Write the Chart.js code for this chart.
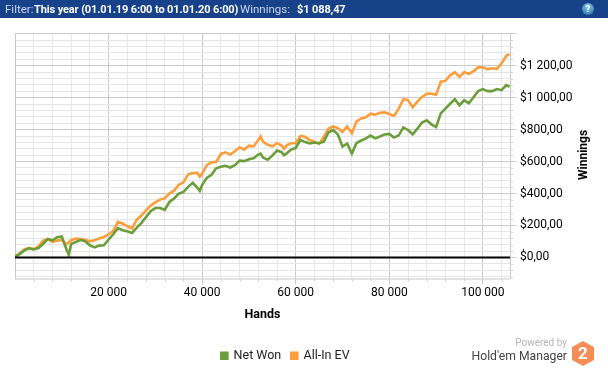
<!DOCTYPE html>
<html>
<head>
<meta charset="utf-8">
<title>Winnings</title>
<script src="https://cdn.jsdelivr.net/npm/chart.js@4"></script>
<style>
  html, body { margin: 0; padding: 0; background: #fff; overflow: hidden; }
  body { width: 608px; height: 369px; position: relative; font-family: Roboto, sans-serif; }
  canvas { position: absolute; left: 0; top: 0; }
  #bar { position: absolute; left: 0; top: 0; width: 608px; height: 18px; background: #17428a; color: #c9d5e8;
         font-size: 11.5px; line-height: 18px; white-space: nowrap; }
  #bar span { position: absolute; top: 0; }
  #bar b { color: #fff; font-size: 11px; letter-spacing: -0.12px; }
  #help { position: absolute; left: 582px; top: 3px; width: 12px; height: 12px; border-radius: 50%;
          background: radial-gradient(circle at 50% 30%, #8fc6e6, #1f6fa8); color: #fff; font-size: 9px;
          font-weight: bold; line-height: 12px; text-align: center; }
  #yTitle { position: absolute; left: 583px; top: 155px; font-size: 12px; font-weight: bold; color: #000;
            transform: translate(-50%, -50%) rotate(-90deg); }
  #powered { position: absolute; right: 41px; top: 337px; font-size: 10px; color: #b5b5b5; }
  #brand { position: absolute; right: 41px; top: 349px; font-size: 12.2px; color: #444; }
  #logo { position: absolute; left: 572px; top: 341px; }
</style>
</head>
<body>
<canvas id="chart" width="608" height="369"></canvas>
<div id="bar">
  <span style="left:5px">Filter:</span>
  <span style="left:34px"><b>This year (01.01.19 6:00 to 01.01.20 6:00)</b></span>
  <span style="left:240px">Winnings:</span>
  <span style="left:297px"><b>$1 088,47</b></span>
  <div id="help">?</div>
</div>
<div id="yTitle">Winnings</div>
<div id="powered">Powered by</div>
<div id="brand">Hold'em Manager</div>
<svg id="logo" width="22" height="25" viewBox="0 0 22 25">
  <polygon points="11,0 22,6 22,19 11,25 0,19 0,6" fill="#f58d56"/>
  <text x="11" y="18" text-anchor="middle" font-family="Roboto" font-weight="bold" font-size="17" fill="#fff">2</text>
</svg>
<script>
const hands = [
  0, 1000, 2000, 3000, 4000, 5000, 6000, 7000, 8000, 9000,
  10000, 11000, 11500, 12000, 13000, 14000, 15000, 16000, 17000, 18000, 19000,
  20000, 21000, 22000, 23000, 24000, 25000, 26000, 27000, 28000, 29000,
  30000, 31000, 32000, 33000, 34000, 35000, 36000, 37000, 38000, 39000, 39500,
  40000, 41000, 42000, 43000, 44000, 45000, 46000, 47000, 48000, 49000,
  50000, 51000, 52000, 52500, 53000, 54000, 55000, 56000, 57000, 57500, 58000, 59000,
  60000, 61000, 62000, 63000, 64000, 65000, 66000, 67000, 68000, 69000,
  70000, 71000, 72000, 73000, 74000, 75000, 76000, 77000, 78000, 79000,
  80000, 81000, 82000, 83000, 84000, 85000, 86000, 87000, 88000, 89000,
  90000, 91000, 92000, 93000, 94000, 95000, 96000, 97000, 98000, 99000,
  100000, 101000, 102000, 103000, 104000, 105000, 105700
];
const netWon = [
  6, 21, 44, 57, 50, 59, 84, 115, 107, 126,
  131, 50, 17, 84, 97, 109, 101, 76, 63, 74, 76,
  112, 145, 183, 170, 164, 153, 185, 215, 252, 290,
  309, 309, 298, 347, 369, 399, 410, 442, 467, 435, 416,
  454, 498, 517, 558, 568, 574, 563, 577, 606, 603,
  615, 621, 644, 650, 625, 612, 637, 669, 659, 640, 650, 675,
  686, 735, 722, 713, 719, 715, 725, 782, 798, 770,
  694, 713, 650, 716, 732, 745, 763, 745, 757, 770,
  773, 751, 763, 814, 798, 770, 806, 845, 858, 833,
  816, 902, 931, 962, 990, 953, 984, 965, 1003, 1041,
  1054, 1041, 1041, 1054, 1047, 1079, 1068
];
const allInEv = [
  6, 25, 50, 60, 52, 68, 105, 115, 98, 105,
  110, 82, 95, 108, 118, 115, 110, 101, 108, 118, 128,
  145, 165, 222, 212, 195, 181, 235, 262, 295, 325,
  345, 362, 370, 400, 418, 455, 470, 520, 528, 530, 505,
  525, 578, 595, 598, 648, 658, 644, 665, 690, 675,
  700, 695, 735, 757, 725, 705, 695, 715, 700, 680, 700, 715,
  715, 760, 755, 735, 725, 711, 755, 805, 820, 810,
  785, 820, 778, 852, 870, 877, 900, 894, 905, 908,
  898, 886, 930, 990, 985, 940, 975, 1005, 1025, 1025,
  1018, 1100, 1105, 1140, 1160, 1130, 1160, 1150, 1165, 1190,
  1190, 1178, 1184, 1180, 1215, 1262, 1273
];
const xTicks = [
  4000, 8000, 12000, 16000, 20000, 24000, 28000, 32000, 36000, 40000, 44000, 48000, 52000,
  56000, 60000, 64000, 68000, 72000, 76000, 80000, 84000, 88000, 92000, 96000, 100000, 104000
];
const xLabels = { 20000: '20 000', 40000: '40 000', 60000: '60 000', 80000: '80 000', 100000: '100 000' };
const yLabels = { 0: '$0,00', 200: '$200,00', 400: '$400,00', 600: '$600,00', 800: '$800,00', 1000: '$1 000,00', 1200: '$1 200,00' };

const GRID_MAJOR = '#c9c9c9';
const GRID_MINOR = '#e6e6e6';

// border, minor tick stubs and the black zero line
const frame = {
  id: 'frame',
  afterLayout(chart) {
    // legend sits lower and left of centre in the original
    const lg = chart.legend;
    lg.left -= 26;
    lg.right -= 26;
    lg.top += 17;
    lg.bottom += 17;
  },
  beforeDatasetsDraw(chart) {
    const { ctx, chartArea: a, scales: { x, y } } = chart;
    ctx.save();
    ctx.strokeStyle = GRID_MAJOR;
    ctx.lineWidth = 1;
    ctx.strokeRect(a.left + 0.5, a.top + 0.5, a.width, a.height);
    ctx.strokeStyle = '#d4d4d4';
    ctx.beginPath();
    x.ticks.forEach(t => {
      if (t.value % 20000 === 0) return;
      const p = Math.round(x.getPixelForValue(t.value)) + 0.5;
      ctx.moveTo(p, a.bottom);
      ctx.lineTo(p, a.bottom + 3);
    });
    y.ticks.forEach(t => {
      if (t.value % 200 === 0) return;
      const p = Math.round(y.getPixelForValue(t.value)) + 0.5;
      ctx.moveTo(a.right, p);
      ctx.lineTo(a.right + 3, p);
    });
    ctx.stroke();
    ctx.restore();
  },
  afterDatasetsDraw(chart) {
    const { ctx, chartArea: a, scales: { y } } = chart;
    const p = y.getPixelForValue(0);
    ctx.save();
    ctx.strokeStyle = '#000';
    ctx.lineWidth = 2;
    ctx.beginPath();
    ctx.moveTo(a.left, p);
    ctx.lineTo(a.right, p);
    ctx.stroke();
    ctx.restore();
  }
};

new Chart(document.getElementById('chart'), {
  type: 'line',
  data: {
    datasets: [
      { label: 'Net Won', data: hands.map((h, i) => ({ x: h, y: netWon[i] })), borderColor: '#6b9e3a', backgroundColor: '#6b9e3a', order: 1 },
      { label: 'All-In EV', data: hands.map((h, i) => ({ x: h, y: allInEv[i] })), borderColor: '#fd9d3c', backgroundColor: '#fd9d3c', order: 2 }
    ]
  },
  options: {
    responsive: false,
    animation: false,
    layout: { padding: { left: 15, top: 33, right: 0, bottom: 14 } },
    elements: { point: { radius: 0 }, line: { borderWidth: 2.6, tension: 0 } },
    plugins: {
      tooltip: { enabled: false },
      legend: {
        position: 'bottom',
        labels: { boxWidth: 6, boxHeight: 6, padding: 10, color: '#222', font: { family: 'Roboto, sans-serif', size: 12.5 } }
      }
    },
    scales: {
      x: {
        type: 'linear',
        min: 0,
        max: 105800,
        afterFit(scale) { scale.height = 44; },
        // stepSize would stretch the spacing to fit min/max, so the ticks are set by hand
        afterBuildTicks(scale) { scale.ticks = xTicks.map(v => ({ value: v })); },
        grid: {
          tickLength: 6,
          color: c => (c.tick && c.tick.value % 20000 === 0 ? GRID_MAJOR : GRID_MINOR),
          tickColor: c => (c.tick && c.tick.value % 20000 === 0 ? '#c9c9c9' : 'transparent')
        },
        border: { display: false },
        ticks: {
          autoSkip: false,
          maxRotation: 0,
          padding: 1,
          color: '#000',
          font: { family: 'Roboto, sans-serif', size: 12 },
          callback: v => xLabels[v] || ''
        },
        title: { display: true, text: 'Hands', color: '#000', padding: 0, font: { family: 'Roboto, sans-serif', size: 12.5, weight: 'bold' } }
      },
      y: {
        position: 'right',
        min: -132,
        max: 1405,
        afterFit(scale) { scale.width = 98; },
        grid: {
          tickLength: 6,
          color: c => (c.tick && c.tick.value % 200 === 0 ? GRID_MAJOR : GRID_MINOR),
          tickColor: c => (c.tick && c.tick.value % 200 === 0 ? '#c9c9c9' : 'transparent')
        },
        border: { display: false },
        ticks: {
          stepSize: 40,
          includeBounds: false,
          autoSkip: false,
          padding: 4,
          color: '#000',
          font: { family: 'Roboto, sans-serif', size: 12 },
          callback: v => yLabels[v] || ''
        }
      }
    }
  },
  plugins: [frame]
});
</script>
</body>
</html>
